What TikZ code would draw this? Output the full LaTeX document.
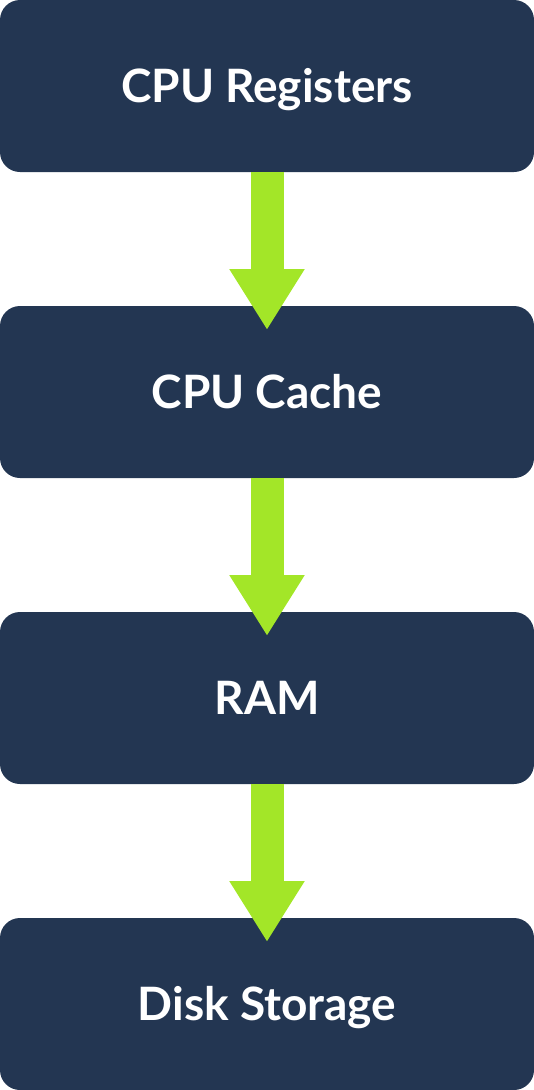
\documentclass[tikz,border=0pt]{standalone}
\usepackage{xcolor}
\definecolor{navy}{RGB}{35, 54, 82}
\definecolor{lime}{RGB}{163, 230, 40}
\usepackage{fontspec}
\setmainfont{Lato}
\usepackage{tikz}
\usetikzlibrary{positioning, arrows.meta}
\tikzstyle{level} = [rectangle, fill=navy, text=white, minimum width=534pt, minimum height=172pt, rounded corners=20pt, inner sep=0pt, outer sep=0pt, text height=33pt, text depth=0pt, font=\fontsize{46}{52}\selectfont\bfseries]
\tikzstyle{flow} = [lime, line width=33pt, -{Triangle[length=61pt, width=71pt]}]

\begin{document}
\begin{tikzpicture}[node distance=134pt]
    \useasboundingbox (0,0) rectangle (534pt,-1090pt);
    \node[level, anchor=north west] (registers) at (0,0) {CPU Registers};
    \node[level, below=of registers] (cache) {CPU Cache};
    \node[level, below=of cache] (ram) {RAM};
    \node[level, below=of ram] (disk) {Disk Storage};

    \draw[flow] (registers.south) -- ([yshift=-24pt]cache.north);
    \draw[flow] (cache.south) -- ([yshift=-24pt]ram.north);
    \draw[flow] (ram.south) -- ([yshift=-24pt]disk.north);
\end{tikzpicture}
\end{document}
